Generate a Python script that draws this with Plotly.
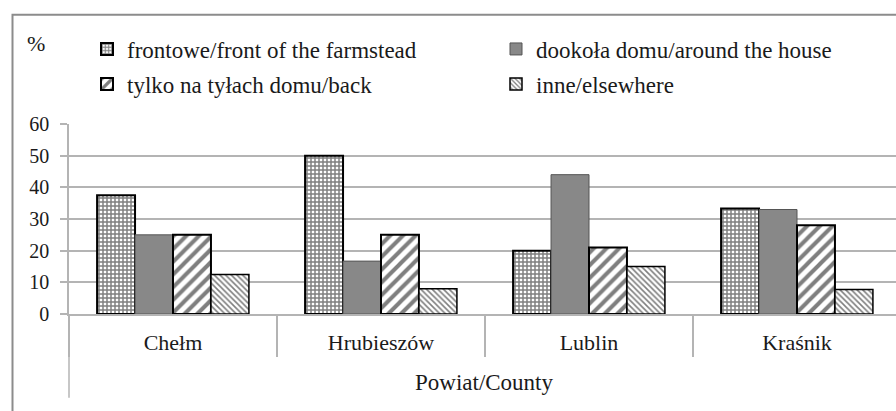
import plotly.graph_objects as go

counties = ["Chełm", "Hrubieszów", "Lublin", "Kraśnik"]
series_names = [
    "frontowe/front of the farmstead",
    "dookoła domu/around the house",
    "tylko na tyłach domu/back",
    "inne/elsewhere",
]
frontowe = [37.5, 50.0, 20.0, 33.3]
dookola = [25.0, 16.7, 44.0, 33.0]
tylko = [25.0, 25.0, 21.0, 28.0]
inne = [12.5, 8.0, 15.0, 7.7]
y_ticks = [0, 10, 20, 30, 40, 50, 60]

FONT = "Liberation Serif"
GRID = "#b4b4b4"

# plot area geometry (px)
L, R_EDGE, TOP, BOT, W, H = 69, 896, 123.5, 314, 896, 411
pw = R_EDGE - L
ph = BOT - TOP


def px_x(p):
    return (p - L) / pw


def px_y(p):
    return (BOT - p) / ph


def cx(p):
    return p / W


def cy(p):
    return 1 - p / H


fig = go.Figure()
fig.add_trace(go.Bar(
    name=series_names[0], x=counties, y=frontowe, legend="legend",
    marker=dict(color="white",
                pattern=dict(shape="+", fgcolor="black", bgcolor="white", size=4, solidity=0.6),
                line=dict(color="black", width=2)),
))
fig.add_trace(go.Bar(
    name=series_names[1], x=counties, y=dookola, legend="legend2",
    marker=dict(color="#888888", line=dict(color="#555555", width=1)),
))
fig.add_trace(go.Bar(
    name=series_names[2], x=counties, y=tylko, legend="legend3",
    marker=dict(color="white",
                pattern=dict(shape="/", fgcolor="black", bgcolor="white", size=9, solidity=0.45),
                line=dict(color="black", width=2)),
))
fig.add_trace(go.Bar(
    name=series_names[3], x=counties, y=inne, legend="legend4",
    marker=dict(color="white",
                pattern=dict(shape="\\", fgcolor="black", bgcolor="white", size=4, solidity=0.4),
                line=dict(color="black", width=1.5)),
))

xmax = -0.5 + pw / 208.0


def leg(px, py):
    return dict(orientation="h", xref="container", yref="container",
                x=cx(px), xanchor="left", y=cy(py), yanchor="middle",
                font=dict(family=FONT, size=23, color="#1a1a1a"),
                bgcolor="rgba(0,0,0,0)")


fig.update_layout(
    width=W, height=H,
    margin=dict(l=L, r=W - R_EDGE, t=TOP, b=H - BOT, pad=0, autoexpand=False),
    paper_bgcolor="white", plot_bgcolor="white",
    font=dict(family=FONT, size=20, color="#1a1a1a"),
    barmode="group", bargap=0.27, bargroupgap=0,
    showlegend=True,
    legend=leg(87, 49),
    legend2=leg(496, 49),
    legend3=leg(87, 84),
    legend4=leg(496, 84),
    xaxis=dict(type="category", range=[-0.5, xmax], tickson="boundaries",
               ticks="outside", ticklen=41, tickcolor=GRID, tickwidth=1.5,
               showline=True, linecolor=GRID, linewidth=1.5,
               showgrid=False, ticklabelstandoff=8,
               tickfont=dict(family=FONT, size=22)),
    yaxis=dict(range=[0, 60], tickvals=y_ticks, ticks="outside", ticklen=7,
               tickcolor=GRID, tickwidth=1.5, showline=True, linecolor=GRID, linewidth=1.5,
               showgrid=True, gridcolor=GRID, gridwidth=1.5, zeroline=False,
               ticklabelstandoff=7,
               tickfont=dict(family=FONT, size=20)),
    annotations=[
        dict(text="%", xref="paper", yref="paper", x=px_x(36), y=px_y(43),
             showarrow=False, xanchor="center", yanchor="middle",
             font=dict(family=FONT, size=22)),
        dict(text="Powiat/County", xref="paper", yref="paper", x=px_x(484), y=px_y(383),
             showarrow=False, xanchor="center", yanchor="middle",
             font=dict(family=FONT, size=23)),
    ],
    shapes=[
        dict(type="rect", xref="paper", yref="paper",
             x0=px_x(12.5), x1=px_x(R_EDGE + 20), y0=px_y(H + 20), y1=px_y(14),
             line=dict(color="#8c8c8c", width=2), fillcolor="rgba(0,0,0,0)", layer="below"),
        dict(type="line", xref="paper", yref="paper", x0=0, x1=0, y0=0, y1=px_y(398),
             line=dict(color=GRID, width=1.5)),
    ],
)

fig.write_html("out.html", config={"displayModeBar": False},
               post_script="document.body.style.margin='0px';document.body.style.overflow='hidden';")
